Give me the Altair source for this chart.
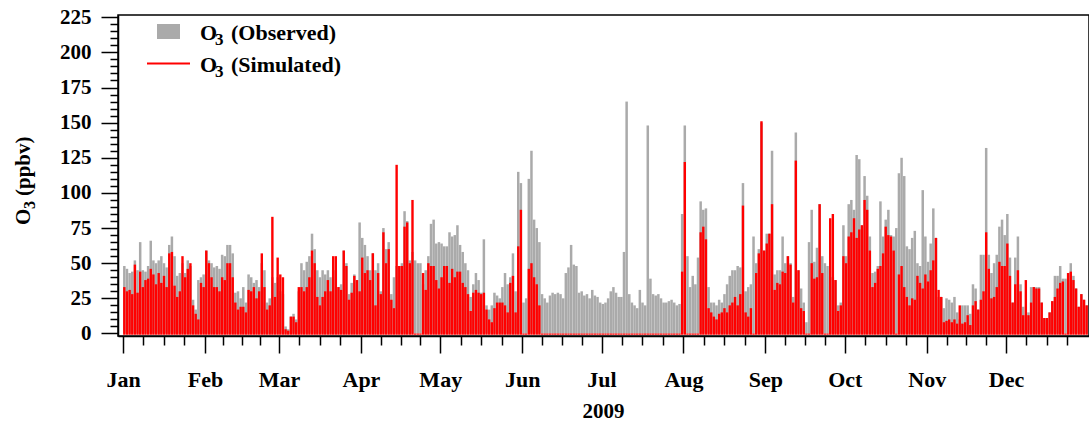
import altair as alt
import pandas as pd

FONT = "Liberation Serif"

# Daily peak O3 (ppbv)
obs_jan = [48, 46, 43, 44, 52, 45, 65, 45, 44, 48, 66, 52, 50, 52, 55, 50, 47, 63, 69, 55, 41, 43, 50, 43, 52, 48, 24, 17, 38, 40, 42]
sim_jan = [33, 30, 31, 28, 49, 29, 44, 33, 38, 39, 46, 42, 35, 43, 36, 41, 33, 57, 58, 34, 26, 30, 55, 40, 46, 50, 20, 14, 10, 36, 33]
obs_feb = [59, 52, 50, 47, 48, 46, 56, 55, 63, 63, 57, 29, 30, 25, 33, 22, 42, 40, 36, 38, 33, 50, 45, 22, 25, 40, 36, 40]
sim_feb = [59, 50, 40, 33, 33, 30, 40, 38, 50, 50, 40, 22, 17, 19, 19, 15, 31, 30, 33, 25, 30, 57, 33, 17, 20, 83, 26, 54]
obs_mar = [30, 28, 5, 3, 12, 14, 10, 30, 50, 45, 51, 55, 71, 60, 45, 40, 45, 42, 45, 40, 45, 45, 33, 35, 59, 50, 28, 36, 42, 38, 79]
sim_mar = [42, 40, 3, 2, 12, 12, 8, 33, 33, 30, 33, 40, 59, 50, 26, 20, 26, 30, 38, 30, 55, 55, 33, 31, 59, 48, 24, 29, 41, 38, 30]
obs_apr = [68, 63, 55, 45, 57, 45, 50, 30, 75, 60, 65, 28, 40, 48, 48, 50, 87, 80, 52, 58, 52, 50, 50, 35, 45, 55, 78, 81, 64, 65]
sim_apr = [54, 43, 45, 38, 57, 20, 43, 28, 72, 50, 60, 24, 18, 120, 48, 48, 76, 79, 50, 95, 0, 0, 0, 43, 31, 50, 48, 48, 38, 32]
obs_may = [64, 62, 62, 72, 69, 70, 77, 63, 58, 50, 45, 26, 35, 43, 38, 29, 67, 20, 17, 20, 29, 27, 25, 33, 43, 35, 40, 57, 30, 115, 107]
sim_may = [40, 48, 48, 36, 46, 40, 44, 44, 36, 33, 28, 16, 29, 31, 29, 28, 29, 17, 10, 8, 18, 22, 22, 22, 20, 15, 36, 41, 15, 62, 88]
obs_jun = [22, 25, 110, 130, 81, 75, 65, 28, 25, 22, 27, 29, 28, 29, 28, 25, 43, 47, 63, 49, 48, 29, 30, 27, 28, 25, 31, 27, 26, 22]
sim_jun = [0, 0, 46, 50, 40, 35, 20, 0, 0, 0, 0, 0, 0, 0, 0, 0, 0, 0, 0, 0, 0, 0, 0, 0, 0, 0, 0, 0, 0, 0]
obs_jul = [21, 22, 25, 30, 33, 29, 26, 26, 58, 165, 28, 22, 20, 18, 31, 22, 20, 148, 39, 28, 27, 28, 25, 22, 22, 23, 24, 22, 20, 21, 85]
sim_jul = [0, 0, 0, 0, 0, 0, 0, 0, 0, 0, 0, 0, 0, 0, 0, 0, 0, 0, 0, 0, 0, 0, 0, 0, 0, 0, 0, 0, 0, 0, 44]
obs_aug = [148, 55, 33, 41, 35, 54, 94, 88, 89, 33, 22, 22, 20, 24, 22, 28, 35, 41, 45, 45, 48, 47, 107, 30, 33, 35, 69, 50, 60, 150, 59]
sim_aug = [122, 0, 0, 0, 0, 0, 72, 76, 67, 18, 15, 12, 10, 14, 15, 18, 15, 20, 22, 26, 20, 28, 91, 15, 12, 18, 0, 43, 57, 151, 59]
obs_sep = [71, 71, 130, 42, 45, 45, 69, 50, 55, 50, 26, 143, 45, 32, 22, 8, 65, 88, 51, 61, 92, 55, 50, 48, 40, 40, 38, 20, 22, 77]
sim_sep = [64, 71, 92, 31, 36, 35, 44, 43, 55, 49, 22, 123, 45, 18, 16, 0, 0, 50, 39, 40, 92, 43, 0, 0, 82, 85, 38, 16, 20, 55]
obs_oct = [55, 92, 95, 88, 127, 124, 77, 112, 98, 69, 43, 44, 48, 94, 69, 81, 88, 70, 69, 75, 114, 125, 112, 62, 60, 68, 73, 50, 48, 102, 69]
sim_oct = [50, 69, 72, 82, 68, 74, 77, 95, 88, 59, 33, 36, 46, 48, 57, 76, 70, 69, 59, 0, 42, 48, 33, 26, 20, 25, 24, 41, 36, 32, 42]
obs_nov = [51, 64, 89, 68, 26, 26, 18, 25, 24, 22, 26, 15, 10, 20, 20, 20, 14, 35, 32, 17, 56, 56, 132, 56, 43, 50, 56, 76, 81, 70]
sim_nov = [37, 45, 52, 68, 31, 26, 8, 9, 10, 8, 10, 7, 20, 7, 8, 13, 6, 20, 23, 17, 24, 30, 72, 46, 25, 26, 33, 51, 48, 48]
obs_dec = [85, 54, 22, 54, 69, 35, 19, 13, 15, 33, 33, 33, 33, 22, 11, 11, 15, 23, 41, 41, 48, 39, 39, 43, 50, 41, 32, 19, 28, 24, 20]
sim_dec = [64, 41, 22, 35, 45, 30, 13, 38, 13, 22, 33, 32, 32, 22, 11, 11, 15, 23, 26, 32, 36, 37, 0, 43, 44, 38, 32, 19, 28, 24, 20]

legend_labels = ["(Observed)", "(Simulated)"]
y_title = "(ppbv)"
x_title = "2009"
y_ticks = [0, 5, 10, 15, 20, 25, 30, 35, 40, 45, 50, 55, 60, 65, 70, 75, 80, 85, 90, 95, 100,
           105, 110, 115, 120, 125, 130, 135, 140, 145, 150, 155, 160, 165, 170, 175, 180, 185,
           190, 195, 200, 205, 210, 215, 220, 225]

obs = (obs_jan + obs_feb + obs_mar + obs_apr + obs_may + obs_jun +
       obs_jul + obs_aug + obs_sep + obs_oct + obs_nov + obs_dec)
sim = (sim_jan + sim_feb + sim_mar + sim_apr + sim_may + sim_jun +
       sim_jul + sim_aug + sim_sep + sim_oct + sim_nov + sim_dec)

DAY = 86400000
def ms(s):
    return int(pd.Timestamp(s, tz="UTC").timestamp() * 1000)

start = ms("2009-01-01")
t = [start + i * DAY + DAY // 2 for i in range(len(obs))]
df = pd.DataFrame({"t": t, "obs": obs, "sim": sim})

month_starts = [ms(f"2009-{m:02d}-01") for m in range(1, 13)] + [ms("2010-01-01")]
major = month_starts[:12]
minor = []
for a, b in zip(month_starts[:-1], month_starts[1:]):
    for k in (1, 2, 3):
        minor.append(int(a + k * (b - a) / 4))

x_end = start + int(363.5 * DAY)
is_major_x = "utcdate(datum.value) == 1 && utchours(datum.value) == 0"

xscale = alt.Scale(type="utc", domain=[start, x_end])
yscale = alt.Scale(domain=[-1.8, 226.6], zero=False, nice=False)

xaxis = alt.Axis(
    values=major + minor,
    labelExpr=f"({is_major_x}) ? utcFormat(datum.value, '%b') : ''",
    tickSize={"condition": {"test": is_major_x, "value": 17}, "value": 9},
    labelPadding=33, labelFlush=False, labelOverlap=False, labelBaseline="alphabetic",
    labelFont=FONT, labelFontSize=22, labelFontWeight="bold", labelColor="black",
    domainColor="black", domainWidth=1.5, tickColor="black", tickWidth=1.5, grid=False,
    title=x_title, titleFont=FONT, titleFontSize=21, titleFontWeight="bold", titleColor="black",
    titleX=485, titleY=81, titleBaseline="alphabetic", titleAlign="center",
)
yaxis = alt.Axis(
    values=y_ticks,
    labelExpr="datum.value % 25 == 0 ? format(datum.value, 'd') : ''",
    tickSize={"condition": {"test": "datum.value % 25 == 0", "value": 17}, "value": 8},
    labelPadding=10, labelOverlap=False, labelFlush=False,
    labelFont=FONT, labelFontSize=21, labelFontWeight="bold", labelColor="black",
    domainColor="black", domainWidth=1.5, tickColor="black", tickWidth=1.5, grid=False,
    title=None,
)

xenc = alt.X("t:T", scale=xscale, axis=xaxis)
base = alt.Chart(df)
obs_bars = base.mark_bar(color="#aaaaaa", width=2.5, clip=True).encode(
    x=xenc,
    y=alt.Y("obs:Q", scale=yscale, axis=yaxis),
)
sim_bars = base.mark_bar(color="#ff0000", width=2.4, clip=True).encode(
    x=xenc,
    y=alt.Y("sim:Q", scale=yscale, axis=yaxis),
    y2=alt.datum(-0.9),
)

one = pd.DataFrame({"k": [0]})

def text_mark(s, x, y, size, angle=0):
    return alt.Chart(one).mark_text(
        text=s, align="left", baseline="alphabetic", font=FONT, fontSize=size,
        fontWeight="bold", color="black", angle=angle,
    ).encode(x=alt.value(x), y=alt.value(y))

legend_box = alt.Chart(one).mark_rect(color="#aaaaaa").encode(
    x=alt.value(39), x2=alt.value(62), y=alt.value(9), y2=alt.value(24))
legend_line = alt.Chart(one).mark_rule(color="#ff0000", strokeWidth=2).encode(
    x=alt.value(29), x2=alt.value(72), y=alt.value(48.5))

layers = [
    obs_bars, sim_bars, legend_box, legend_line,
    text_mark("O", 82, 24.5, 22), text_mark("3", 97, 30, 17), text_mark(legend_labels[0], 113, 24.5, 22),
    text_mark("O", 82, 56.5, 22), text_mark("3", 97, 62, 17), text_mark(legend_labels[1], 113, 56.5, 22),
    text_mark("O", -88, 210, 21, 270), text_mark("3", -83, 194, 16, 270), text_mark(y_title, -88, 181, 21, 270),
]

chart = alt.layer(*layers).properties(
    width=971, height=321,
    autosize=alt.AutoSizeParams(type="none"),
    padding={"left": 118, "top": 15, "right": 0, "bottom": 92},
    background="white",
).configure_view(stroke="black", strokeWidth=1.5)

chart.save("out.html", embed_options={"renderer": "svg", "actions": False})
